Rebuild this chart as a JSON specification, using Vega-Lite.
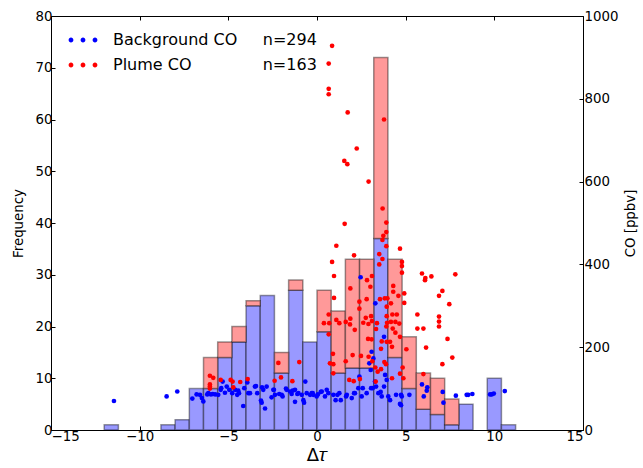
{
  "$schema": "https://vega.github.io/schema/vega-lite/v6.json",
  "width": 532,
  "height": 414,
  "autosize": {"type": "none"},
  "padding": {"left": 51, "top": 16, "right": 60, "bottom": 38},
  "background": "white",
  "config": {
    "view": {"stroke": null},
    "axis": {
      "grid": false,
      "domainColor": "#000000",
      "domainWidth": 1,
      "tickColor": "#000000",
      "tickWidth": 1,
      "labelFont": "DejaVu Sans",
      "labelFontSize": 13.33,
      "labelColor": "#000000",
      "titleFont": "DejaVu Sans",
      "titleFontWeight": "normal",
      "titleColor": "#000000",
      "titleFontSize": 13.33
    },
    "legend": {
      "orient": "none",
      "legendX": 20,
      "legendY": 12,
      "padding": 0,
      "rowPadding": 5,
      "labelOffset": 18,
      "labelFont": "DejaVu Sans",
      "labelFontSize": 16,
      "labelColor": "#000000",
      "labelLimit": 400,
      "symbolSize": 576,
      "symbolStrokeWidth": 0,
      "symbolOpacity": 1,
      "symbolType": "M-1.2,0A0.2,0.2,0,1,1,-0.8,0A0.2,0.2,0,1,1,-1.2,0ZM-0.2,0A0.2,0.2,0,1,1,0.2,0A0.2,0.2,0,1,1,-0.2,0ZM0.8,0A0.2,0.2,0,1,1,1.2,0A0.2,0.2,0,1,1,0.8,0Z"
    }
  },
  "datasets": {
    "bars": [
      {"b0": -12, "b1": -11.2, "series": "Background", "count": 1},
      {"b0": -8.8, "b1": -8.0, "series": "Background", "count": 1},
      {"b0": -8.0, "b1": -7.2, "series": "Background", "count": 2},
      {"b0": -7.2, "b1": -6.4, "series": "Background", "count": 8},
      {"b0": -6.4, "b1": -5.6, "series": "Background", "count": 8},
      {"b0": -5.6, "b1": -4.8, "series": "Background", "count": 14},
      {"b0": -4.8, "b1": -4.0, "series": "Background", "count": 17},
      {"b0": -4.0, "b1": -3.2, "series": "Background", "count": 24},
      {"b0": -3.2, "b1": -2.4, "series": "Background", "count": 26},
      {"b0": -2.4, "b1": -1.6, "series": "Background", "count": 11},
      {"b0": -1.6, "b1": -0.8, "series": "Background", "count": 27},
      {"b0": -0.8, "b1": 0.0, "series": "Background", "count": 17},
      {"b0": 0.0, "b1": 0.8, "series": "Background", "count": 19},
      {"b0": 0.8, "b1": 1.6, "series": "Background", "count": 11},
      {"b0": 1.6, "b1": 2.4, "series": "Background", "count": 12},
      {"b0": 2.4, "b1": 3.2, "series": "Background", "count": 12},
      {"b0": 3.2, "b1": 4.0, "series": "Background", "count": 37},
      {"b0": 4.0, "b1": 4.8, "series": "Background", "count": 14},
      {"b0": 4.8, "b1": 5.6, "series": "Background", "count": 8},
      {"b0": 5.6, "b1": 6.4, "series": "Background", "count": 4},
      {"b0": 6.4, "b1": 7.2, "series": "Background", "count": 3},
      {"b0": 7.2, "b1": 8.0, "series": "Background", "count": 1},
      {"b0": 8.0, "b1": 8.8, "series": "Background", "count": 5},
      {"b0": 9.6, "b1": 10.4, "series": "Background", "count": 10},
      {"b0": 10.4, "b1": 11.2, "series": "Background", "count": 1},
      {"b0": -6.4, "b1": -5.6, "series": "Plume", "count": 6},
      {"b0": -5.6, "b1": -4.8, "series": "Plume", "count": 3},
      {"b0": -4.8, "b1": -4.0, "series": "Plume", "count": 3},
      {"b0": -4.0, "b1": -3.2, "series": "Plume", "count": 1},
      {"b0": -2.4, "b1": -1.6, "series": "Plume", "count": 4},
      {"b0": -1.6, "b1": -0.8, "series": "Plume", "count": 2},
      {"b0": 0.0, "b1": 0.8, "series": "Plume", "count": 8},
      {"b0": 0.8, "b1": 1.6, "series": "Plume", "count": 12},
      {"b0": 1.6, "b1": 2.4, "series": "Plume", "count": 21},
      {"b0": 2.4, "b1": 3.2, "series": "Plume", "count": 21},
      {"b0": 3.2, "b1": 4.0, "series": "Plume", "count": 35},
      {"b0": 4.0, "b1": 4.8, "series": "Plume", "count": 19},
      {"b0": 4.8, "b1": 5.6, "series": "Plume", "count": 10},
      {"b0": 5.6, "b1": 6.4, "series": "Plume", "count": 7},
      {"b0": 6.4, "b1": 7.2, "series": "Plume", "count": 7},
      {"b0": 7.2, "b1": 8.0, "series": "Plume", "count": 5}
    ],
    "pts": [
      {"dtau": -11.45, "co": 70, "series": "Background CO"},
      {"dtau": -8.48, "co": 81, "series": "Background CO"},
      {"dtau": -7.88, "co": 93, "series": "Background CO"},
      {"dtau": -7.03, "co": 76, "series": "Background CO"},
      {"dtau": -6.79, "co": 86, "series": "Background CO"},
      {"dtau": -6.6, "co": 85, "series": "Background CO"},
      {"dtau": -6.49, "co": 77, "series": "Background CO"},
      {"dtau": -6.41, "co": 69, "series": "Background CO"},
      {"dtau": -6.19, "co": 86, "series": "Background CO"},
      {"dtau": -6.13, "co": 89, "series": "Background CO"},
      {"dtau": -5.98, "co": 86, "series": "Background CO"},
      {"dtau": -5.88, "co": 87, "series": "Background CO"},
      {"dtau": -5.74, "co": 86, "series": "Background CO"},
      {"dtau": -5.57, "co": 85, "series": "Background CO"},
      {"dtau": -5.43, "co": 97, "series": "Background CO"},
      {"dtau": -5.4, "co": 101, "series": "Background CO"},
      {"dtau": -5.32, "co": 117, "series": "Background CO"},
      {"dtau": -5.19, "co": 90, "series": "Background CO"},
      {"dtau": -5.09, "co": 105, "series": "Background CO"},
      {"dtau": -4.95, "co": 97, "series": "Background CO"},
      {"dtau": -4.78, "co": 89, "series": "Background CO"},
      {"dtau": -4.61, "co": 97, "series": "Background CO"},
      {"dtau": -4.5, "co": 85, "series": "Background CO"},
      {"dtau": -4.44, "co": 95, "series": "Background CO"},
      {"dtau": -4.4, "co": 89, "series": "Background CO"},
      {"dtau": -4.16, "co": 58, "series": "Background CO"},
      {"dtau": -4.1, "co": 101, "series": "Background CO"},
      {"dtau": -3.93, "co": 115, "series": "Background CO"},
      {"dtau": -3.87, "co": 89, "series": "Background CO"},
      {"dtau": -3.78, "co": 89, "series": "Background CO"},
      {"dtau": -3.5, "co": 105, "series": "Background CO"},
      {"dtau": -3.44, "co": 106, "series": "Background CO"},
      {"dtau": -3.37, "co": 89, "series": "Background CO"},
      {"dtau": -3.16, "co": 71, "series": "Background CO"},
      {"dtau": -3.12, "co": 66, "series": "Background CO"},
      {"dtau": -3.1, "co": 103, "series": "Background CO"},
      {"dtau": -3.03, "co": 97, "series": "Background CO"},
      {"dtau": -2.93, "co": 52, "series": "Background CO"},
      {"dtau": -2.84, "co": 105, "series": "Background CO"},
      {"dtau": -2.56, "co": 79, "series": "Background CO"},
      {"dtau": -2.46, "co": 97, "series": "Background CO"},
      {"dtau": -2.43, "co": 97, "series": "Background CO"},
      {"dtau": -2.37, "co": 85, "series": "Background CO"},
      {"dtau": -2.13, "co": 87, "series": "Background CO"},
      {"dtau": -1.99, "co": 85, "series": "Background CO"},
      {"dtau": -1.94, "co": 81, "series": "Background CO"},
      {"dtau": -1.75, "co": 100, "series": "Background CO"},
      {"dtau": -1.71, "co": 97, "series": "Background CO"},
      {"dtau": -1.52, "co": 93, "series": "Background CO"},
      {"dtau": -1.43, "co": 87, "series": "Background CO"},
      {"dtau": -1.37, "co": 95, "series": "Background CO"},
      {"dtau": -1.24, "co": 97, "series": "Background CO"},
      {"dtau": -1.24, "co": 68, "series": "Background CO"},
      {"dtau": -1.11, "co": 87, "series": "Background CO"},
      {"dtau": -1.05, "co": 89, "series": "Background CO"},
      {"dtau": -0.86, "co": 85, "series": "Background CO"},
      {"dtau": -0.77, "co": 72, "series": "Background CO"},
      {"dtau": -0.73, "co": 66, "series": "Background CO"},
      {"dtau": -0.66, "co": 117, "series": "Background CO"},
      {"dtau": -0.58, "co": 89, "series": "Background CO"},
      {"dtau": -0.39, "co": 85, "series": "Background CO"},
      {"dtau": -0.3, "co": 89, "series": "Background CO"},
      {"dtau": -0.24, "co": 89, "series": "Background CO"},
      {"dtau": -0.21, "co": 85, "series": "Background CO"},
      {"dtau": -0.02, "co": 81, "series": "Background CO"},
      {"dtau": 0.05, "co": 86, "series": "Background CO"},
      {"dtau": 0.21, "co": 92, "series": "Background CO"},
      {"dtau": 0.27, "co": 93, "series": "Background CO"},
      {"dtau": 0.45, "co": 81, "series": "Background CO"},
      {"dtau": 0.55, "co": 97, "series": "Background CO"},
      {"dtau": 0.64, "co": 89, "series": "Background CO"},
      {"dtau": 0.92, "co": 85, "series": "Background CO"},
      {"dtau": 1.05, "co": 72, "series": "Background CO"},
      {"dtau": 1.15, "co": 85, "series": "Background CO"},
      {"dtau": 1.26, "co": 89, "series": "Background CO"},
      {"dtau": 1.34, "co": 72, "series": "Background CO"},
      {"dtau": 1.64, "co": 81, "series": "Background CO"},
      {"dtau": 1.68, "co": 85, "series": "Background CO"},
      {"dtau": 1.96, "co": 77, "series": "Background CO"},
      {"dtau": 2.09, "co": 89, "series": "Background CO"},
      {"dtau": 2.14, "co": 89, "series": "Background CO"},
      {"dtau": 2.33, "co": 101, "series": "Background CO"},
      {"dtau": 2.39, "co": 129, "series": "Background CO"},
      {"dtau": 2.52, "co": 81, "series": "Background CO"},
      {"dtau": 2.58, "co": 101, "series": "Background CO"},
      {"dtau": 2.8, "co": 89, "series": "Background CO"},
      {"dtau": 2.95, "co": 161, "series": "Background CO"},
      {"dtau": 3.03, "co": 145, "series": "Background CO"},
      {"dtau": 3.05, "co": 101, "series": "Background CO"},
      {"dtau": 3.08, "co": 189, "series": "Background CO"},
      {"dtau": 3.14, "co": 101, "series": "Background CO"},
      {"dtau": 3.18, "co": 173, "series": "Background CO"},
      {"dtau": 3.27, "co": 117, "series": "Background CO"},
      {"dtau": 3.33, "co": 105, "series": "Background CO"},
      {"dtau": 3.46, "co": 89, "series": "Background CO"},
      {"dtau": 3.59, "co": 92, "series": "Background CO"},
      {"dtau": 3.65, "co": 81, "series": "Background CO"},
      {"dtau": 3.78, "co": 105, "series": "Background CO"},
      {"dtau": 3.84, "co": 133, "series": "Background CO"},
      {"dtau": 3.93, "co": 121, "series": "Background CO"},
      {"dtau": 4.02, "co": 81, "series": "Background CO"},
      {"dtau": 4.12, "co": 72, "series": "Background CO"},
      {"dtau": 4.46, "co": 85, "series": "Background CO"},
      {"dtau": 4.68, "co": 63, "series": "Background CO"},
      {"dtau": 4.74, "co": 85, "series": "Background CO"},
      {"dtau": 4.74, "co": 60, "series": "Background CO"},
      {"dtau": 4.78, "co": 81, "series": "Background CO"},
      {"dtau": 5.21, "co": 85, "series": "Background CO"},
      {"dtau": 2.46, "co": 369, "series": "Background CO"},
      {"dtau": 3.29, "co": 306, "series": "Background CO"},
      {"dtau": 3.78, "co": 225, "series": "Background CO"},
      {"dtau": 5.92, "co": 110, "series": "Background CO"},
      {"dtau": 6.22, "co": 103, "series": "Background CO"},
      {"dtau": 6.19, "co": 95, "series": "Background CO"},
      {"dtau": 6.02, "co": 81, "series": "Background CO"},
      {"dtau": 7.09, "co": 92, "series": "Background CO"},
      {"dtau": 7.13, "co": 66, "series": "Background CO"},
      {"dtau": 7.83, "co": 83, "series": "Background CO"},
      {"dtau": 8.44, "co": 85, "series": "Background CO"},
      {"dtau": 8.53, "co": 85, "series": "Background CO"},
      {"dtau": 8.76, "co": 87, "series": "Background CO"},
      {"dtau": 9.76, "co": 86, "series": "Background CO"},
      {"dtau": 9.85, "co": 86, "series": "Background CO"},
      {"dtau": 9.97, "co": 88, "series": "Background CO"},
      {"dtau": 10.59, "co": 94, "series": "Background CO"},
      {"dtau": 0.85, "co": 928, "series": "Plume CO"},
      {"dtau": 0.66, "co": 885, "series": "Plume CO"},
      {"dtau": 0.66, "co": 824, "series": "Plume CO"},
      {"dtau": 0.66, "co": 811, "series": "Plume CO"},
      {"dtau": 1.73, "co": 767, "series": "Plume CO"},
      {"dtau": 3.78, "co": 750, "series": "Plume CO"},
      {"dtau": 2.24, "co": 680, "series": "Plume CO"},
      {"dtau": 1.54, "co": 650, "series": "Plume CO"},
      {"dtau": 1.71, "co": 642, "series": "Plume CO"},
      {"dtau": 2.91, "co": 600, "series": "Plume CO"},
      {"dtau": 3.7, "co": 535, "series": "Plume CO"},
      {"dtau": 1.56, "co": 498, "series": "Plume CO"},
      {"dtau": 3.91, "co": 501, "series": "Plume CO"},
      {"dtau": 3.91, "co": 478, "series": "Plume CO"},
      {"dtau": 3.74, "co": 469, "series": "Plume CO"},
      {"dtau": 3.69, "co": 459, "series": "Plume CO"},
      {"dtau": 1.09, "co": 445, "series": "Plume CO"},
      {"dtau": 3.91, "co": 444, "series": "Plume CO"},
      {"dtau": 4.68, "co": 438, "series": "Plume CO"},
      {"dtau": 2.09, "co": 422, "series": "Plume CO"},
      {"dtau": 3.51, "co": 425, "series": "Plume CO"},
      {"dtau": 3.69, "co": 413, "series": "Plume CO"},
      {"dtau": 3.51, "co": 400, "series": "Plume CO"},
      {"dtau": 0.85, "co": 406, "series": "Plume CO"},
      {"dtau": 4.79, "co": 406, "series": "Plume CO"},
      {"dtau": 4.79, "co": 396, "series": "Plume CO"},
      {"dtau": 4.79, "co": 380, "series": "Plume CO"},
      {"dtau": 0.96, "co": 372, "series": "Plume CO"},
      {"dtau": 5.92, "co": 378, "series": "Plume CO"},
      {"dtau": 6.11, "co": 367, "series": "Plume CO"},
      {"dtau": 6.45, "co": 371, "series": "Plume CO"},
      {"dtau": 7.8, "co": 376, "series": "Plume CO"},
      {"dtau": 3.1, "co": 372, "series": "Plume CO"},
      {"dtau": 2.82, "co": 362, "series": "Plume CO"},
      {"dtau": 3.01, "co": 346, "series": "Plume CO"},
      {"dtau": 4.3, "co": 348, "series": "Plume CO"},
      {"dtau": 1.88, "co": 342, "series": "Plume CO"},
      {"dtau": 4.3, "co": 334, "series": "Plume CO"},
      {"dtau": 4.59, "co": 324, "series": "Plume CO"},
      {"dtau": 4.92, "co": 330, "series": "Plume CO"},
      {"dtau": 0.96, "co": 319, "series": "Plume CO"},
      {"dtau": 2.8, "co": 316, "series": "Plume CO"},
      {"dtau": 3.82, "co": 318, "series": "Plume CO"},
      {"dtau": 3.97, "co": 318, "series": "Plume CO"},
      {"dtau": 3.55, "co": 316, "series": "Plume CO"},
      {"dtau": 2.39, "co": 310, "series": "Plume CO"},
      {"dtau": 4.17, "co": 306, "series": "Plume CO"},
      {"dtau": 2.39, "co": 293, "series": "Plume CO"},
      {"dtau": 3.93, "co": 298, "series": "Plume CO"},
      {"dtau": 0.66, "co": 279, "series": "Plume CO"},
      {"dtau": 3.05, "co": 275, "series": "Plume CO"},
      {"dtau": 2.75, "co": 271, "series": "Plume CO"},
      {"dtau": 1.88, "co": 269, "series": "Plume CO"},
      {"dtau": 3.93, "co": 275, "series": "Plume CO"},
      {"dtau": 4.25, "co": 279, "series": "Plume CO"},
      {"dtau": 4.5, "co": 279, "series": "Plume CO"},
      {"dtau": 5.66, "co": 279, "series": "Plume CO"},
      {"dtau": 0.39, "co": 258, "series": "Plume CO"},
      {"dtau": 0.69, "co": 258, "series": "Plume CO"},
      {"dtau": 1.09, "co": 266, "series": "Plume CO"},
      {"dtau": 1.26, "co": 258, "series": "Plume CO"},
      {"dtau": 1.62, "co": 261, "series": "Plume CO"},
      {"dtau": 1.86, "co": 255, "series": "Plume CO"},
      {"dtau": 2.61, "co": 259, "series": "Plume CO"},
      {"dtau": 2.9, "co": 256, "series": "Plume CO"},
      {"dtau": 3.1, "co": 263, "series": "Plume CO"},
      {"dtau": 3.38, "co": 258, "series": "Plume CO"},
      {"dtau": 3.95, "co": 259, "series": "Plume CO"},
      {"dtau": 4.17, "co": 261, "series": "Plume CO"},
      {"dtau": 4.42, "co": 261, "series": "Plume CO"},
      {"dtau": 4.64, "co": 257, "series": "Plume CO"},
      {"dtau": 5.66, "co": 245, "series": "Plume CO"},
      {"dtau": 6.0, "co": 245, "series": "Plume CO"},
      {"dtau": 0.66, "co": 231, "series": "Plume CO"},
      {"dtau": 2.13, "co": 242, "series": "Plume CO"},
      {"dtau": 3.33, "co": 244, "series": "Plume CO"},
      {"dtau": 3.91, "co": 250, "series": "Plume CO"},
      {"dtau": 4.27, "co": 245, "series": "Plume CO"},
      {"dtau": 2.88, "co": 220, "series": "Plume CO"},
      {"dtau": 3.08, "co": 219, "series": "Plume CO"},
      {"dtau": 4.42, "co": 235, "series": "Plume CO"},
      {"dtau": 4.68, "co": 225, "series": "Plume CO"},
      {"dtau": 3.65, "co": 214, "series": "Plume CO"},
      {"dtau": 3.93, "co": 213, "series": "Plume CO"},
      {"dtau": 4.12, "co": 213, "series": "Plume CO"},
      {"dtau": 3.61, "co": 196, "series": "Plume CO"},
      {"dtau": 4.23, "co": 201, "series": "Plume CO"},
      {"dtau": 6.15, "co": 199, "series": "Plume CO"},
      {"dtau": 0.9, "co": 184, "series": "Plume CO"},
      {"dtau": 2.01, "co": 181, "series": "Plume CO"},
      {"dtau": 2.48, "co": 179, "series": "Plume CO"},
      {"dtau": 2.91, "co": 177, "series": "Plume CO"},
      {"dtau": 0.73, "co": 161, "series": "Plume CO"},
      {"dtau": 0.92, "co": 159, "series": "Plume CO"},
      {"dtau": 1.62, "co": 166, "series": "Plume CO"},
      {"dtau": 3.12, "co": 166, "series": "Plume CO"},
      {"dtau": 3.8, "co": 164, "series": "Plume CO"},
      {"dtau": 3.89, "co": 159, "series": "Plume CO"},
      {"dtau": 3.29, "co": 151, "series": "Plume CO"},
      {"dtau": 3.61, "co": 147, "series": "Plume CO"},
      {"dtau": 0.92, "co": 137, "series": "Plume CO"},
      {"dtau": 1.82, "co": 121, "series": "Plume CO"},
      {"dtau": 2.07, "co": 118, "series": "Plume CO"},
      {"dtau": 2.42, "co": 123, "series": "Plume CO"},
      {"dtau": 3.42, "co": 141, "series": "Plume CO"},
      {"dtau": 4.23, "co": 125, "series": "Plume CO"},
      {"dtau": 4.68, "co": 136, "series": "Plume CO"},
      {"dtau": 6.0, "co": 135, "series": "Plume CO"},
      {"dtau": 3.31, "co": 117, "series": "Plume CO"},
      {"dtau": -6.04, "co": 131, "series": "Plume CO"},
      {"dtau": -5.85, "co": 126, "series": "Plume CO"},
      {"dtau": -6.04, "co": 110, "series": "Plume CO"},
      {"dtau": -6.04, "co": 105, "series": "Plume CO"},
      {"dtau": -6.04, "co": 100, "series": "Plume CO"},
      {"dtau": -5.43, "co": 121, "series": "Plume CO"},
      {"dtau": -4.87, "co": 121, "series": "Plume CO"},
      {"dtau": -4.76, "co": 117, "series": "Plume CO"},
      {"dtau": -4.33, "co": 116, "series": "Plume CO"},
      {"dtau": -3.91, "co": 123, "series": "Plume CO"},
      {"dtau": -4.72, "co": 103, "series": "Plume CO"},
      {"dtau": -2.18, "co": 162, "series": "Plume CO"},
      {"dtau": -1.0, "co": 164, "series": "Plume CO"},
      {"dtau": -2.39, "co": 119, "series": "Plume CO"},
      {"dtau": -2.03, "co": 127, "series": "Plume CO"},
      {"dtau": -1.39, "co": 118, "series": "Plume CO"},
      {"dtau": 7.07, "co": 336, "series": "Plume CO"},
      {"dtau": 6.88, "co": 324, "series": "Plume CO"},
      {"dtau": 7.46, "co": 304, "series": "Plume CO"},
      {"dtau": 4.92, "co": 307, "series": "Plume CO"},
      {"dtau": 6.88, "co": 274, "series": "Plume CO"},
      {"dtau": 6.88, "co": 262, "series": "Plume CO"},
      {"dtau": 6.88, "co": 250, "series": "Plume CO"},
      {"dtau": 7.36, "co": 220, "series": "Plume CO"},
      {"dtau": 7.63, "co": 175, "series": "Plume CO"},
      {"dtau": 5.04, "co": 195, "series": "Plume CO"},
      {"dtau": 7.07, "co": 159, "series": "Plume CO"},
      {"dtau": 4.83, "co": 151, "series": "Plume CO"},
      {"dtau": 4.87, "co": 125, "series": "Plume CO"},
      {"dtau": 6.09, "co": 362, "series": "Plume CO"}
    ]
  },
  "layer": [
    {
      "data": {"name": "bars"},
      "transform": [
        {"stack": "count", "groupby": ["b0"], "sort": [{"field": "series", "order": "ascending"}], "as": ["c0", "c1"]}
      ],
      "mark": {"type": "rect", "stroke": "#000000", "strokeOpacity": 0.4, "strokeWidth": 1.5},
      "encoding": {
        "x": {
          "field": "b0", "type": "quantitative",
          "scale": {"domain": [-15, 15], "nice": false, "zero": false},
          "axis": {"orient": "bottom", "values": [-15, -10, -5, 0, 5, 10, 15], "tickSize": -4, "labelPadding": 3, "title": "Δ𝜏", "titleFontSize": 18, "titlePadding": 4}
        },
        "x2": {"field": "b1"},
        "y": {
          "field": "c1", "type": "quantitative",
          "scale": {"domain": [0, 80], "nice": false},
          "axis": {"orient": "left", "values": [0, 10, 20, 30, 40, 50, 60, 70, 80], "tickSize": -4, "labelPadding": 3, "title": "Frequency", "titlePadding": 10}
        },
        "y2": {"field": "c0"},
        "fill": {
          "field": "series", "type": "nominal",
          "scale": {"domain": ["Background", "Plume"], "range": ["#9999ff", "#ff9999"]},
          "legend": null
        }
      }
    },
    {
      "data": {"name": "pts"},
      "mark": {"type": "circle", "size": 22, "opacity": 1, "strokeWidth": 0},
      "encoding": {
        "x": {
          "field": "dtau", "type": "quantitative",
          "scale": {"domain": [-15, 15], "nice": false, "zero": false},
          "axis": {"orient": "top", "values": [-15, -10, -5, 0, 5, 10, 15], "labels": false, "tickSize": -4, "title": null}
        },
        "y": {
          "field": "co", "type": "quantitative",
          "scale": {"domain": [0, 1000], "nice": false},
          "axis": {"orient": "right", "values": [0, 200, 400, 600, 800, 1000], "format": "d", "tickSize": -4, "labelPadding": 5, "title": "CO [ppbv]", "titleAngle": -90, "titleBaseline": "top", "titlePadding": 6}
        },
        "color": {
          "field": "series", "type": "nominal",
          "scale": {"domain": ["Background CO", "Plume CO"], "range": ["#0000ff", "#ff0000"]},
          "legend": {
            "title": null,
            "labelExpr": "datum.label == 'Background CO' ? 'Background CO\u00a0\u00a0\u00a0\u00a0\u00a0n=294' : 'Plume CO\u00a0\u00a0\u00a0\u00a0\u00a0\u00a0\u00a0\u00a0\u00a0\u00a0\u00a0\u00a0\u00a0\u00a0n=163'"
          }
        }
      }
    }
  ],
  "resolve": {"scale": {"y": "independent", "color": "independent"}, "axis": {"x": "independent", "y": "independent"}}
}
